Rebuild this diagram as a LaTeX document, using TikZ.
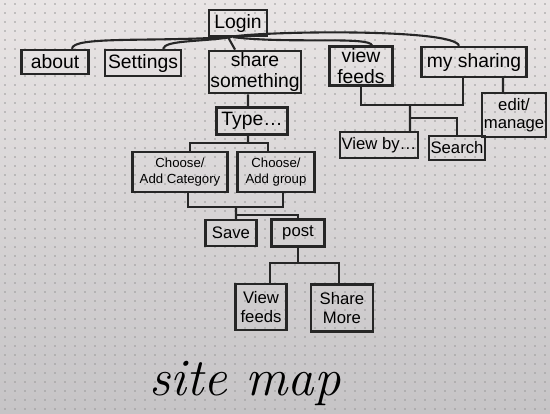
\documentclass[tikz,border=0pt]{standalone}
\usepackage{fontspec}
\usepackage[dvipsnames]{xcolor}
\usepackage{tikz}
\newfontfamily\handfont{Liberation Sans}
\definecolor{papertop}{RGB}{233,229,229}
\definecolor{paperbottom}{RGB}{198,196,198}
\colorlet{dotgray}{black!40}
\colorlet{ink}{black!85}

\begin{document}
\begin{tikzpicture}[x=0.02cm,y=-0.02cm,
    page/.style={draw=ink,line width=1.3pt,inner sep=1pt,align=center,
      font=\handfont\fontsize{11}{12}\selectfont},
    small/.style={font=\handfont\fontsize{9.5}{10.5}\selectfont},
    tiny/.style={font=\handfont\fontsize{7.5}{9}\selectfont},
    link/.style={draw=ink,line width=1.2pt}]

      \useasboundingbox (0,0) rectangle (550,413);
      \shade [top color=papertop,bottom color=paperbottom] (0,0) rectangle (550,413);
      \foreach \i in {0,...,54}
        \foreach \j in {0,...,45}
          \fill [dotgray] (5+\i*10,4+\j*9) circle (0.5pt);

      \node [page,minimum width=1.16cm,minimum height=0.52cm] (login) at (238,23) {Login};
      \node [page,minimum width=1.34cm,minimum height=0.48cm] (about) at (55,62) {about};
      \node [page,minimum width=1.52cm,minimum height=0.52cm] (settings) at (143,63) {Settings};
      \node [page,minimum width=1.76cm,minimum height=0.8cm] (share) at (255,72) {share\\something};
      \node [page,minimum width=1.26cm,minimum height=0.74cm] (viewfeeds) at (361,66) {view\\feeds};
      \node [page,minimum width=2.1cm,minimum height=0.6cm] (mysharing) at (474,62) {my sharing};
      \node [page,minimum width=1.42cm,minimum height=0.54cm] (type) at (252,121) {Type\dots};
      \node [page,tiny,minimum width=1.9cm,minimum height=0.8cm] (category) at (180,172) {Choose/\\Add Category};
      \node [page,tiny,minimum width=1.54cm,minimum height=0.8cm] (group) at (276,172) {Choose/\\Add group};
      \node [page,small,minimum width=1.02cm,minimum height=0.52cm] (save) at (231,233) {Save};
      \node [page,small,minimum width=1.06cm,minimum height=0.54cm] (post) at (298,233) {post};
      \node [page,small,minimum width=1.02cm,minimum height=0.92cm] (feeds) at (261,307) {View\\feeds};
      \node [page,small,minimum width=1.24cm,minimum height=0.94cm] (more) at (342,308) {Share\\More};
      \node [page,small,minimum width=1.44cm,minimum height=0.52cm] (viewby) at (379,145) {View by\dots};
      \node [page,small,minimum width=1.1cm,minimum height=0.48cm] (search) at (457,148) {Search};
      \node [page,small,minimum width=1.24cm,minimum height=0.88cm] (edit) at (514,115) {edit/\\manage};

      \node [font=\itshape\fontsize{30}{30}\selectfont] (title) at (245,383) {site map};

      %% from the login page
      \draw [link] ([xshift=-0.24cm]login.south) .. controls (150,42) and (72,36) .. ([xshift=0.34cm]about.north);
      \draw [link] ([xshift=-0.14cm]login.south) .. controls (200,42) and (165,40) .. ([xshift=0.4cm]settings.north);
      \draw [link] ([xshift=-0.2cm]login.south) -- ([xshift=-0.4cm]share.north);
      \draw [link] ([xshift=-0.1cm]login.south) .. controls (290,44) and (370,36) .. ([xshift=0.22cm]viewfeeds.north);
      \draw [link] ([xshift=-0.18cm]login.south) .. controls (260,31) and (455,28) .. ([xshift=-0.3cm]mysharing.north);

      %% share something
      \coordinate (typej) at (248,143);
      \coordinate (choosej) at (236,207);
      \coordinate (postj) at (236,215);
      \coordinate (feedj) at (298,263);
      \draw [link] ([xshift=-0.14cm]share.south) -- ([xshift=-0.08cm]type.north);
      \draw [link] ([xshift=-0.08cm]type.south) -- (typej);
      \draw [link] ([xshift=0.2cm]category.north) |- (typej) -| ([xshift=-0.16cm]group.north);
      \draw [link] ([xshift=0.16cm]category.south) |- (choosej) -| ([xshift=0.14cm]group.south);
      \draw [link] (choosej) -- ([xshift=0.1cm]save.north);
      \draw [link] (postj) -| (post.north);
      \draw [link] (post.south) -- (feedj);
      \draw [link] ([xshift=0.18cm]feeds.north) |- (feedj) -| ([xshift=-0.06cm]more.north);

      %% view feeds and my sharing
      \coordinate (viewj) at (410,105);
      \coordinate (searchj) at (410,118);
      \draw [link] (viewfeeds.south) |- (viewj) -| ([xshift=-0.22cm]mysharing.south);
      \draw [link] (viewj) -- ([xshift=0.62cm]viewby.north);
      \draw [link] (searchj) -| (search.north);
      \draw [link] ([xshift=0.58cm]mysharing.south) -- ([xshift=-0.22cm]edit.north);

    \end{tikzpicture}
\end{document}
